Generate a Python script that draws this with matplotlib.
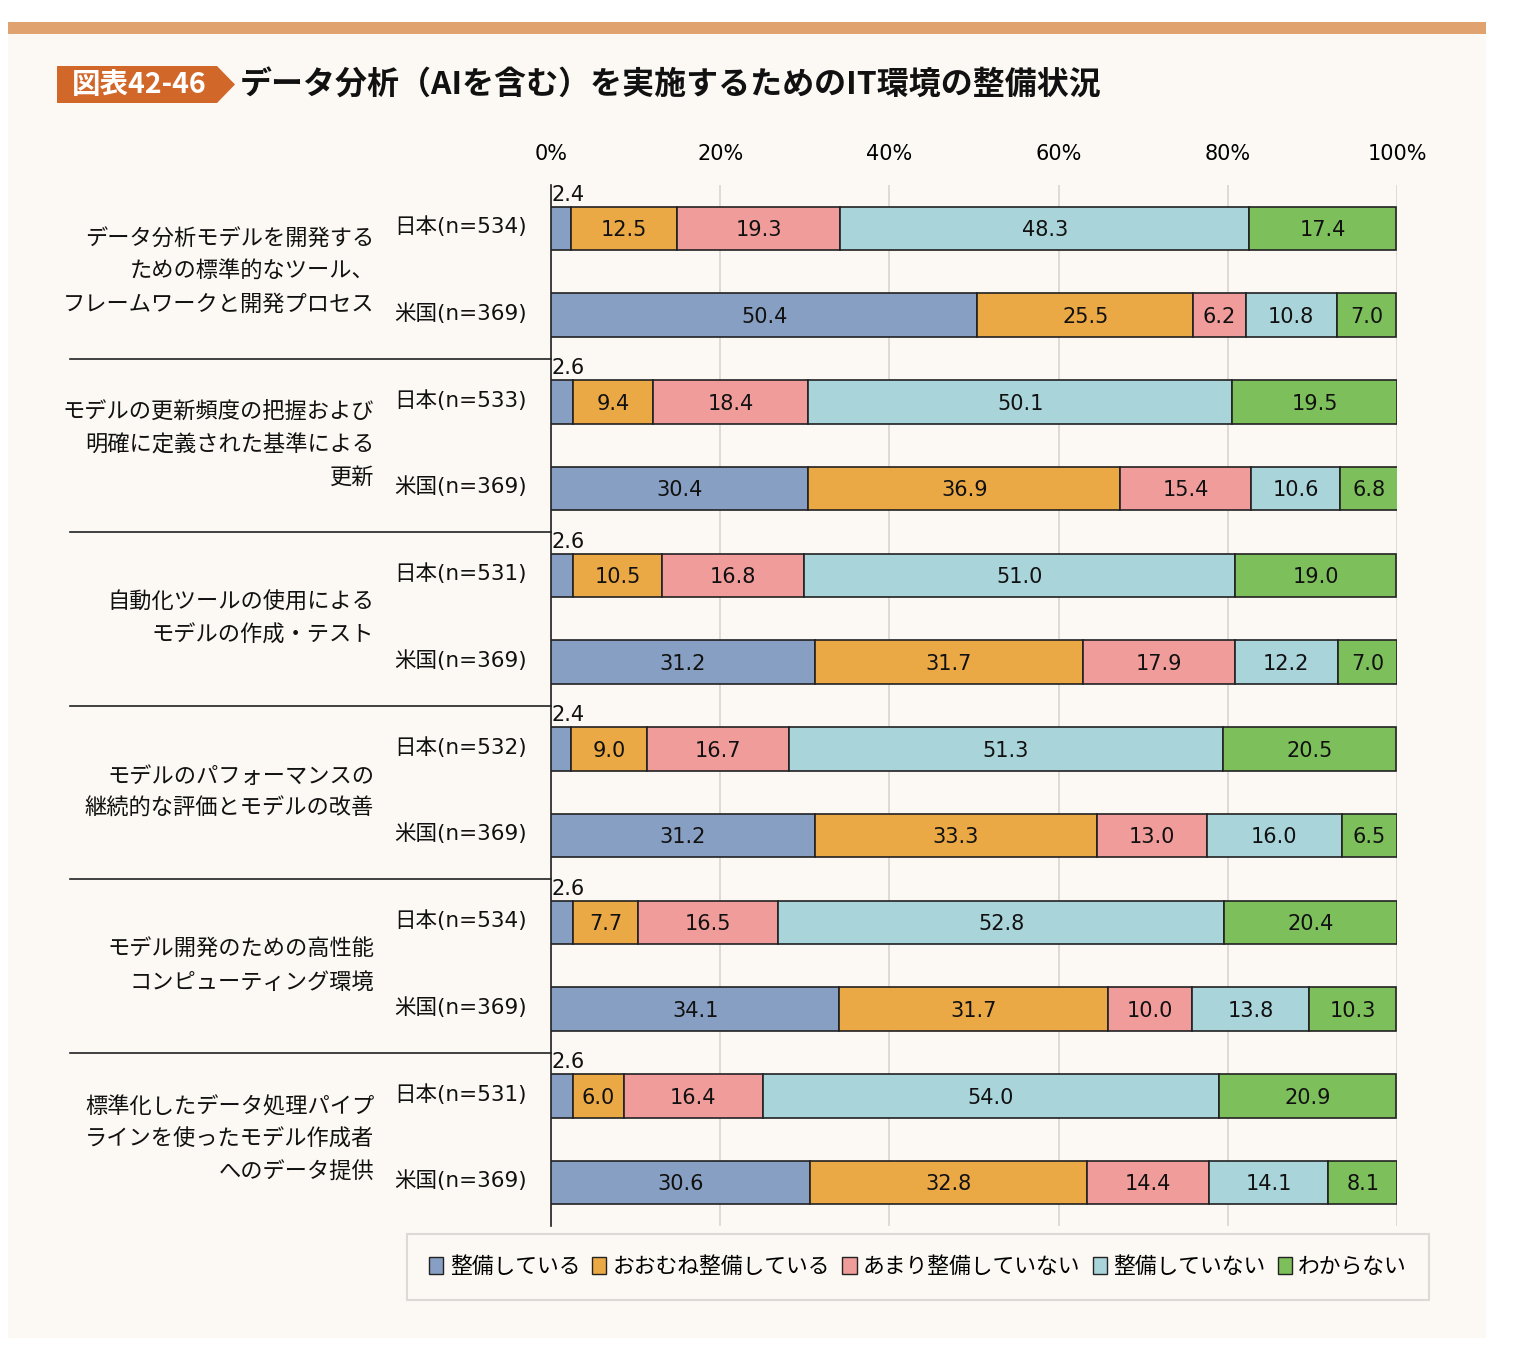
import matplotlib.pyplot as plt
from matplotlib.patches import Rectangle, Polygon, Patch
import numpy as np

plt.rcParams['font.family'] = ['Noto Sans CJK JP', 'DejaVu Sans']
latin_first = ['DejaVu Sans', 'Noto Sans CJK JP']

# data
categories = [
    "データ分析モデルを開発する\nための標準的なツール、\nフレームワークと開発プロセス",
    "モデルの更新頻度の把握および\n明確に定義された基準による\n更新",
    "自動化ツールの使用による\nモデルの作成・テスト",
    "モデルのパフォーマンスの\n継続的な評価とモデルの改善",
    "モデル開発のための高性能\nコンピューティング環境",
    "標準化したデータ処理パイプ\nラインを使ったモデル作成者\nへのデータ提供",
]
row_labels = [
    "日本(n=534)", "米国(n=369)",
    "日本(n=533)", "米国(n=369)",
    "日本(n=531)", "米国(n=369)",
    "日本(n=532)", "米国(n=369)",
    "日本(n=534)", "米国(n=369)",
    "日本(n=531)", "米国(n=369)",
]
series = ["整備している", "おおむね整備している", "あまり整備していない", "整備していない", "わからない"]
seibi_shiteiru = [2.4, 50.4, 2.6, 30.4, 2.6, 31.2, 2.4, 31.2, 2.6, 34.1, 2.6, 30.6]
oomune = [12.5, 25.5, 9.4, 36.9, 10.5, 31.7, 9.0, 33.3, 7.7, 31.7, 6.0, 32.8]
amari = [19.3, 6.2, 18.4, 15.4, 16.8, 17.9, 16.7, 13.0, 16.5, 10.0, 16.4, 14.4]
shiteinai = [48.3, 10.8, 50.1, 10.6, 51.0, 12.2, 51.3, 16.0, 52.8, 13.8, 54.0, 14.1]
wakaranai = [17.4, 7.0, 19.5, 6.8, 19.0, 7.0, 20.5, 6.5, 20.4, 10.3, 20.9, 8.1]
ticks = [0, 20, 40, 60, 80, 100]

colors = ["#879FC2", "#EBA946", "#F09C9A", "#A8D4DA", "#7DBF5A"]
panel = "#FCF9F4"

W, H = 1514, 1370
fig = plt.figure(figsize=(W / 100, H / 100), dpi=100)
fig.patch.set_facecolor("white")

def fx(px):
    return px / W

def fy(py):
    return 1 - py / H

# background panel and top stripe
fig.patches.append(Rectangle((fx(8), fy(1338)), fx(1478), (1338 - 34) / H,
                             transform=fig.transFigure, facecolor=panel, edgecolor="none", zorder=-5))
fig.patches.append(Rectangle((fx(8), fy(34)), fx(1478), 12 / H,
                             transform=fig.transFigure, facecolor="#E0A370", edgecolor="none", zorder=-5))

# title badge
badge = Polygon([(fx(57), fy(66)), (fx(217), fy(66)), (fx(235), fy(84.5)),
                 (fx(217), fy(103)), (fx(57), fy(103))],
                closed=True, transform=fig.transFigure, facecolor="#D2672A", edgecolor="none", zorder=-4)
fig.patches.append(badge)
fig.text(fx(139), fy(85), "図表42-46", color="white", fontsize=20.5, fontweight="bold",
         ha="center", va="center")
fig.text(fx(240), fy(86), "データ分析（AIを含む）を実施するためのIT環境の整備状況",
         fontsize=23, fontweight="bold", ha="left", va="center", color="#111111")

ax = fig.add_axes([fx(551), fy(1226), fx(1397 - 551), (1226 - 185) / H])
ax.set_facecolor("none")
ax.set_zorder(2)

data = np.array([seibi_shiteiru, oomune, amari, shiteinai, wakaranai])
n = len(row_labels)
y = np.arange(n)
left = np.zeros(n)
for k in range(len(series)):
    vals = data[k]
    ax.barh(y, vals, left=left, height=0.5, color=colors[k], edgecolor="#222222",
            linewidth=1.2, label=series[k], zorder=3)
    for i in range(n):
        v = vals[i]
        if v >= 5:
            ax.text(left[i] + v / 2, y[i] + 0.02, f"{v:.1f}", ha="center", va="center",
                    fontsize=15, color="#111111", zorder=4, family=latin_first)
        else:
            ax.text(left[i] + 0.1, y[i] - 0.27, f"{v:.1f}", ha="left", va="bottom",
                    fontsize=15, color="#111111", zorder=4, family=latin_first)
    left = left + vals

ax.set_xlim(0, 100)
ax.set_ylim(n - 0.5, -0.5)
ax.set_xticks(ticks)
ax.set_xticklabels([f"{t}%" for t in ticks], fontsize=15, family=latin_first)
ax.xaxis.tick_top()
ax.tick_params(axis="x", length=0, pad=15)
ax.set_yticks([])
ax.grid(axis="x", color="#D9D6D2", linewidth=1.2, zorder=0)
for s in ["top", "right", "bottom"]:
    ax.spines[s].set_visible(False)
ax.spines["left"].set_color("#222222")
ax.spines["left"].set_linewidth(1.2)

# row labels
tr = ax.get_yaxis_transform()
for i, lab in enumerate(row_labels):
    ax.text(-0.029, y[i] - 0.02, lab, transform=tr, ha="right", va="center", fontsize=15.5,
            color="#111111", family=latin_first)

# category labels and separators
for g, cat in enumerate(categories):
    yc = 2 * g + 0.5
    ax.text(-0.209, yc, cat, transform=tr, ha="right", va="center", fontsize=16,
            color="#111111", linespacing=1.53, multialignment="right")
    if g < len(categories) - 1:
        ax.plot([-0.5686, 0], [2 * g + 1.5] * 2, transform=tr, color="#222222",
                linewidth=1.2, clip_on=False)

# legend
handles = [Patch(facecolor=colors[k], edgecolor="#222222", linewidth=1.0) for k in range(len(series))]
leg = fig.legend(handles, series, loc="center", bbox_to_anchor=(fx(918), fy(1267)), ncol=5,
                 fontsize=15.7, frameon=True, handlelength=0.65, handleheight=0.8,
                 handletextpad=0.3, columnspacing=0.55, borderpad=1.0, fancybox=False)
leg.get_frame().set_edgecolor("#D4D2CF")
leg.get_frame().set_facecolor(panel)
leg.get_frame().set_linewidth(1.5)

fig.savefig("out.png", dpi=100, facecolor=fig.get_facecolor())
